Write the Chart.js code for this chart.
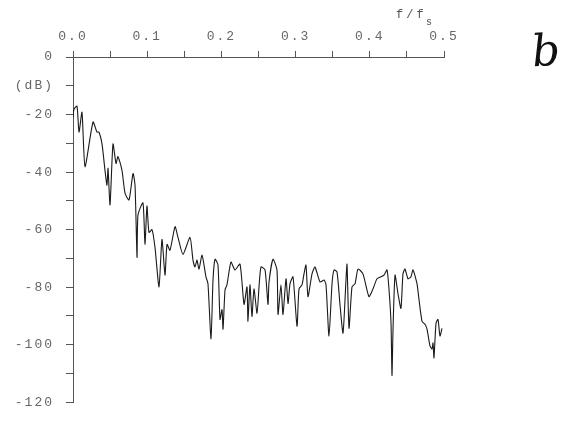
<!DOCTYPE html>
<html>
<head>
<meta charset="utf-8">
<script src="https://cdn.jsdelivr.net/npm/chart.js@4/dist/chart.umd.min.js"></script>
<style>
  html, body { margin: 0; padding: 0; background: #fff; }
  #wrap { width: 573px; height: 422px; position: relative; }
</style>
</head>
<body>
<div id="wrap"><canvas id="c" width="573" height="422"></canvas></div>
<script>
// Normalised frequency f/fs
const freq = [
  0.000, 0.0013, 0.0054, 0.0081, 0.0121, 0.0162, 0.0270, 0.0323, 0.0350, 0.0391,
  0.0431, 0.0458, 0.0472, 0.0499, 0.0539, 0.0580, 0.0606, 0.0660, 0.0701, 0.0755,
  0.0809, 0.0836, 0.0863, 0.0876, 0.0943, 0.0970, 0.0997, 0.1024, 0.1065, 0.1105,
  0.1159, 0.1199, 0.1240, 0.1267, 0.1307, 0.1375, 0.1415, 0.1482, 0.1577, 0.1617,
  0.1644, 0.1671, 0.1698, 0.1739, 0.1792, 0.1819, 0.1860, 0.1887, 0.1914, 0.1954,
  0.1981, 0.2008, 0.2022, 0.2049, 0.2075, 0.2129, 0.2183, 0.2251, 0.2305, 0.2345,
  0.2358, 0.2385, 0.2412, 0.2439, 0.2480, 0.2507, 0.2534, 0.2588, 0.2628, 0.2642,
  0.2695, 0.2749, 0.2763, 0.2803, 0.2830, 0.2871, 0.2898, 0.2925, 0.2965, 0.3019,
  0.3046, 0.3086, 0.3113, 0.3140, 0.3167, 0.3221, 0.3261, 0.3329, 0.3383, 0.3410,
  0.3450, 0.3491, 0.3518, 0.3558, 0.3598, 0.3639, 0.3679, 0.3693, 0.3720, 0.3760,
  0.3801, 0.3841, 0.3908, 0.3989, 0.4043, 0.4097, 0.4151, 0.4191, 0.4232, 0.4259,
  0.4286, 0.4299, 0.4313, 0.4340, 0.4380, 0.4420, 0.4447, 0.4474, 0.4515, 0.4555,
  0.4582, 0.4636, 0.4663, 0.4704, 0.4744, 0.4771, 0.4811, 0.4838, 0.4852, 0.4865,
  0.4892, 0.4919, 0.4946, 0.4973
];

// Magnitude in dB
const level = [
  -20.9, -18.2, -17.1, -26.1, -19.2, -38.1, -22.6, -26.1, -26.1, -30.2,
  -39.4, -44.6, -38.7, -51.4, -30.2, -37.0, -34.6, -39.4, -47.3, -49.7,
  -40.5, -44.6, -69.6, -54.9, -50.7, -65.1, -51.8, -61.0, -60.0, -66.2,
  -79.9, -63.4, -75.8, -65.1, -67.2, -59.0, -62.7, -68.6, -62.7, -70.6,
  -73.0, -70.6, -73.7, -68.9, -76.4, -78.8, -98.0, -77.5, -70.3, -72.3,
  -91.2, -87.8, -94.6, -80.9, -79.2, -71.3, -74.0, -72.0, -86.0, -79.9,
  -91.9, -79.2, -90.2, -80.6, -89.1, -79.9, -73.0, -74.0, -86.0, -78.2,
  -70.3, -74.0, -89.5, -79.2, -89.5, -77.1, -85.7, -78.8, -76.4, -93.6,
  -80.6, -79.2, -75.4, -72.3, -83.3, -75.4, -73.0, -78.2, -77.5, -79.2,
  -97.0, -78.8, -74.0, -74.7, -86.0, -96.0, -77.5, -72.0, -94.3, -79.9,
  -78.8, -73.7, -75.4, -83.3, -80.6, -77.1, -76.4, -75.8, -74.0, -80.9,
  -92.6, -110.7, -94.6, -75.8, -82.3, -87.4, -75.4, -73.7, -77.1, -76.4,
  -74.0, -78.8, -84.3, -91.9, -92.9, -94.6, -100.4, -101.5, -99.4, -104.6,
  -92.6, -91.2, -97.0, -94.3
];

// Axis tick labels
const xTickLabels = ['0.0', '0.1', '0.2', '0.3', '0.4', '0.5'];
const yTickLabels = { '0': '0', '-10': '(dB)', '-20': '-20', '-40': '-40', '-60': '-60',
                      '-80': '-80', '-100': '-100', '-120': '-120' };

const points = freq.map((f, i) => ({ x: f, y: level[i] }));

const tickFont = { family: '"Liberation Mono", "DejaVu Sans Mono", monospace', size: 13 };
const tickColor = '#666';
const axisColor = '#555';

// Wide plotter-style lettering and the free-standing annotations
const decor = {
  id: 'decor',
  beforeDraw(chart) {
    chart.ctx.letterSpacing = '2px';
  },
  afterDraw(chart) {
    const ctx = chart.ctx;
    ctx.save();
    ctx.fillStyle = '#555';
    ctx.textBaseline = 'middle';
    ctx.textAlign = 'left';
    ctx.letterSpacing = '3px';
    ctx.font = '12px "Liberation Mono", "DejaVu Sans Mono", monospace';
    ctx.fillText('f/f', 396, 15);
    ctx.letterSpacing = '0px';
    ctx.font = '10px "Liberation Mono", "DejaVu Sans Mono", monospace';
    ctx.fillText('s', 426, 22);

    // handwritten panel letter
    ctx.fillStyle = '#111';
    ctx.font = 'italic 44px "DejaVu Serif", serif';
    ctx.textAlign = 'center';
    ctx.translate(546, 54);
    ctx.rotate(-0.08);
    ctx.fillText('b', 0, 0);
    ctx.restore();
  }
};

new Chart(document.getElementById('c'), {
  type: 'line',
  data: {
    datasets: [{
      data: points,
      borderColor: '#1a1a1a',
      borderWidth: 1.1,
      pointRadius: 0,
      tension: 0.2,
      fill: false
    }]
  },
  options: {
    responsive: false,
    animation: false,
    events: [],
    layout: { padding: { left: 0, top: 0, right: 129, bottom: 15 } },
    plugins: { legend: { display: false }, tooltip: { enabled: false } },
    scales: {
      x: {
        type: 'linear',
        position: 'top',
        min: 0,
        max: 0.5,
        afterFit(s) { s.height = 57; },
        afterBuildTicks(s) {
          s.ticks = [];
          for (let i = 0; i <= 10; i++) s.ticks.push({ value: i * 0.05 });
        },
        grid: { drawOnChartArea: false, drawTicks: true, tickLength: 6, color: axisColor },
        border: { display: true, color: axisColor, width: 1 },
        ticks: {
          autoSkip: false,
          maxRotation: 0,
          padding: 7,
          color: tickColor,
          font: tickFont,
          callback(v) {
            const k = Math.round(v * 100);
            return k % 10 === 0 ? xTickLabels[k / 10] : '';
          }
        }
      },
      y: {
        type: 'linear',
        min: -120,
        max: 0,
        afterFit(s) { s.width = 73; },
        afterBuildTicks(s) {
          s.ticks = [];
          for (let v = 0; v >= -120; v -= 10) s.ticks.push({ value: v });
        },
        grid: { drawOnChartArea: false, drawTicks: true, tickLength: 7, color: axisColor },
        border: { display: true, color: axisColor, width: 1 },
        ticks: {
          autoSkip: false,
          padding: 12,
          color: tickColor,
          font: tickFont,
          callback(v) {
            const key = String(Math.round(v));
            return yTickLabels[key] !== undefined ? yTickLabels[key] : '';
          }
        }
      }
    }
  },
  plugins: [decor]
});
</script>
</body>
</html>
